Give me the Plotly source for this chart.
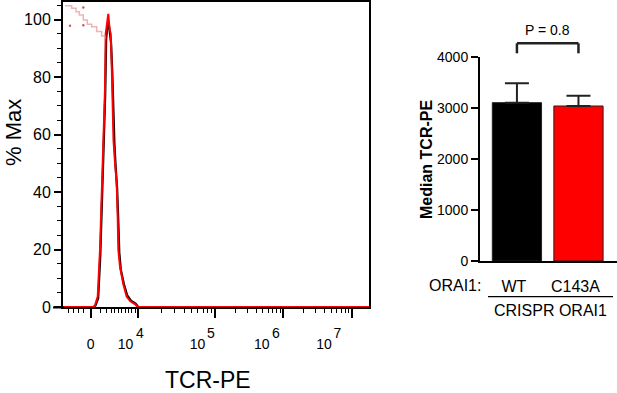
import numpy as np
import plotly.graph_objects as go

W, H = 617, 393
FONT = "Liberation Sans, Arial, sans-serif"

# ---------------- Histogram data (x in display channel units 0..1000) ----------------
red_x = [0, 100, 104.6, 113.4, 120.9, 128.4, 131.7, 137.3, 139.5, 144, 148, 152, 155.9, 159.2,
         161.1, 165, 170, 175.5, 178.8, 180.7, 186.3, 197, 208, 220, 235, 245, 1000]
red_y = [0, 0, 0.6, 3.6, 20, 43, 55, 76, 95, 99, 102, 97, 95, 84,
         72, 58, 50, 43, 31, 20, 14, 8, 3.6, 2, 1, 0, 0]

black_x = [0, 100, 106, 115, 122, 129, 133, 138, 141, 145, 149, 153, 157, 161,
           164, 168, 172, 177, 181, 184, 189, 199, 210, 222, 237, 246, 1000]
black_y = [0, 0, 0.5, 3, 18, 40, 53, 74, 93, 98, 99, 96, 92, 82,
           70, 57, 49, 41, 29, 19, 13, 8, 4, 2.2, 1.2, 0, 0]

ghost_x = [6.5, 28.4, 42.5, 53.3, 66.3, 79.4, 93.8, 110.1, 126.4, 137.3]
ghost_y = [104.8, 103.9, 102.7, 101.6, 99.8, 98.4, 97.5, 95.8, 94.3, 93.1]

dots_x = [22.9, 66.3, 66.3]
dots_y = [97.8, 104.2, 98.0]

# axis ticks (channel units)
major_ticks = [90.5, 245.8, 496.7, 719.9, 943.5]
base_pos = [90.5, 204.2, 439.5, 649.3, 852.9]
base_text = ["0", "10", "10", "10", "10"]
exp_pos = [251.6, 483.7, 696.1, 897.1]
exp_text = ["4", "5", "6", "7"]
low_minor = [17.3, 33.7, 50, 66.3, 120.9, 142.8, 159.2, 169.9, 180.7, 191.8, 202.6, 213.4, 224.5, 235.3]

# ---------------- Bar data ----------------
categories = ["WT", "C143A"]
medians = [3100, 3035]
sem = [380, 200]
bar_colors = ["black", "red"]
group_label = "CRISPR ORAI1"
p_text = "P = 0.8"

# ---------------- helpers ----------------
def px_x(p):
    return p / W

def px_y(p):
    return 1 - p / H

minor_ticks = list(low_minor)
for a, b in zip(major_ticks[1:-1], major_ticks[2:]):
    for d in range(2, 10):
        minor_ticks.append(a + (b - a) * np.log10(d))

fig = go.Figure()

fig.add_trace(go.Scatter(x=ghost_x, y=ghost_y, mode="lines", line=dict(color="rgba(228,150,150,0.7)", width=1.5, shape="hv"),
                         xaxis="x3", yaxis="y", hoverinfo="skip"))
fig.add_trace(go.Scatter(x=dots_x, y=dots_y, mode="markers", marker=dict(color="rgba(210,40,40,0.8)", size=2.5),
                         xaxis="x4", yaxis="y", hoverinfo="skip"))
fig.add_trace(go.Scatter(x=black_x, y=black_y, mode="lines", line=dict(color="black", width=2.2),
                         xaxis="x", yaxis="y"))
fig.add_trace(go.Scatter(x=red_x, y=red_y, mode="lines", line=dict(color="#ff0000", width=2),
                         xaxis="x", yaxis="y"))

fig.add_trace(go.Bar(x=[0, 1], y=medians, marker=dict(color=bar_colors, line=dict(color="#222", width=1)),
                     width=0.8,
                     error_y=dict(type="data", array=sem, arrayminus=[0, 0], symmetric=False,
                                  color="#222", thickness=2, width=12),
                     xaxis="x2", yaxis="y2"))

xdom = [px_x(63), px_x(369)]
ydom = [px_y(307), px_y(2)]

label_axis = dict(domain=xdom, range=[0, 1000], overlaying="x", anchor="y", side="bottom",
                  showline=False, showgrid=False, zeroline=False, ticks="", tickmode="array",
                  tickfont=dict(size=14, family=FONT), automargin=False)

fig.update_layout(
    template="none",
    width=W, height=H, margin=dict(l=0, r=0, t=0, b=0, autoexpand=False),
    paper_bgcolor="white", plot_bgcolor="white", showlegend=False,
    font=dict(family=FONT, color="black"),
    xaxis=dict(domain=xdom, range=[0, 1000], showline=True, linecolor="black", linewidth=2, mirror=True,
               showgrid=False, zeroline=False, tickmode="array", tickvals=major_ticks, showticklabels=False,
               ticks="outside", ticklen=9, tickwidth=1.5, tickcolor="black", layer="below traces",
               minor=dict(tickmode="array", tickvals=minor_ticks, ticks="outside", ticklen=4,
                          tickwidth=1, tickcolor="black", showgrid=False),
               anchor="y", automargin=False),
    xaxis3=dict(label_axis, tickvals=base_pos, ticktext=base_text, ticklabelstandoff=27),
    xaxis4=dict(label_axis, tickvals=exp_pos, ticktext=exp_text, ticklabelstandoff=16),
    yaxis=dict(domain=ydom, range=[0, 106.1], showline=True, linecolor="black", linewidth=2, mirror=True,
               showgrid=False, zeroline=False, tickmode="array", tickvals=[0, 20, 40, 60, 80, 100],
               ticks="outside", ticklen=7, tickwidth=1.5, tickcolor="black",
               tickfont=dict(size=16, family=FONT), layer="below traces",
               minor=dict(dtick=5, tick0=0, ticks="outside", ticklen=4, tickwidth=1, tickcolor="black", showgrid=False),
               anchor="x", automargin=False),
    xaxis2=dict(domain=[px_x(480), 1.0], range=[-0.6, 1.626], showline=True, linecolor="black", linewidth=2,
                showgrid=False, zeroline=False, tickmode="array", tickvals=[-0.05, 0.95], ticktext=categories,
                ticks="", tickfont=dict(size=16, family=FONT), ticklabelstandoff=10, anchor="y2", automargin=False),
    yaxis2=dict(domain=[px_y(261), px_y(56.7)], range=[0, 4000], showline=True, linecolor="black", linewidth=2,
                showgrid=False, zeroline=False, tickmode="array", tickvals=[0, 1000, 2000, 3000, 4000],
                ticks="outside", ticklen=7, tickwidth=2, tickcolor="black",
                tickfont=dict(size=14, family=FONT), anchor="x2", automargin=False),
)

# extend the histogram x axis line slightly left of y axis
fig.add_shape(type="line", xref="paper", yref="paper", x0=px_x(53), x1=px_x(64), y0=px_y(307.5), y1=px_y(307.5),
              line=dict(color="black", width=2))

# bracket
byt = px_y(43.3)
byb = px_y(53.3)
for (x0, x1, y0, y1) in [(0, 1, byt, byt), (0, 0, byt, byb), (1, 1, byt, byb)]:
    fig.add_shape(type="line", xref="x2", yref="paper", x0=x0, x1=x1, y0=y0, y1=y1,
                  line=dict(color="#222", width=2.5))

# group underline
fig.add_shape(type="line", xref="paper", yref="paper", x0=px_x(488), x1=px_x(613), y0=px_y(296.7), y1=px_y(296.7),
              line=dict(color="black", width=1.2))

anns = [
    dict(text="% Max", x=px_x(13), y=px_y(133), textangle=-90, font=dict(size=22)),
    dict(text="TCR-PE", x=px_x(207.5), y=px_y(380), font=dict(size=23)),
    dict(text="<b>Median TCR-PE</b>", x=px_x(426), y=px_y(160), textangle=-90, font=dict(size=16)),
    dict(text="ORAI1:", x=px_x(483), y=px_y(285), xanchor="right", font=dict(size=16)),
    dict(text=group_label, x=px_x(550), y=px_y(310), font=dict(size=16)),
    dict(text=p_text, x=px_x(547.5), y=px_y(30), font=dict(size=14)),
]
for a in anns:
    a.setdefault("xanchor", "center")
    fig.add_annotation(xref="paper", yref="paper", showarrow=False, yanchor="middle",
                       font=dict(family=FONT, color="black", size=a["font"]["size"]),
                       **{k: v for k, v in a.items() if k != "font"})

fig.write_html("out.html", config={"displayModeBar": False},
               post_script="document.body.style.margin='0';document.body.style.overflow='hidden';")
